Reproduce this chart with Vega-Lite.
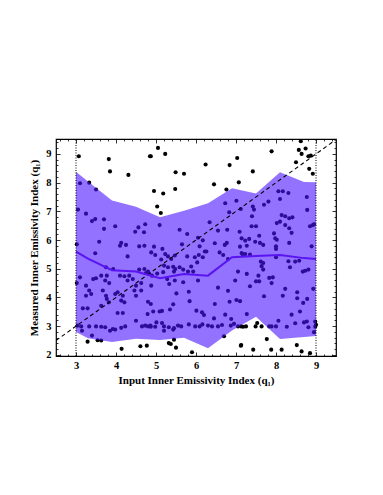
{
"$schema": "https://vega.github.io/schema/vega-lite/v6.json",
"width": 280, "height": 217,
"autosize": {"type": "none"},
"padding": {"left": 56, "top": 139, "right": 47, "bottom": 139},
"background": "white",
"config": {
 "view": {"stroke": "black", "strokeWidth": 1.2},
 "axis": {"domain": false, "grid": false, "labelFont": "Liberation Serif", "titleFont": "Liberation Serif", "labelColor": "black", "titleColor": "black", "tickColor": "black", "labelFontSize": 10.5, "titleFontSize": 11, "titleFontWeight": "bold", "labelFontWeight": "bold", "tickWidth": 0.8}
},
"datasets": {
 "pts": [
  {"x":3.07,"y":8.92},{"x":3.82,"y":8.82},{"x":3.85,"y":8.39},{"x":4.31,"y":8.27},{"x":4.85,"y":8.92},
  {"x":3.10,"y":7.98},{"x":3.33,"y":8.00},{"x":3.50,"y":7.76},{"x":3.05,"y":7.06},{"x":3.25,"y":6.92},
  {"x":3.40,"y":6.66},{"x":3.48,"y":6.73},{"x":3.70,"y":6.72},{"x":3.70,"y":6.39},{"x":3.98,"y":6.48},
  {"x":4.56,"y":6.44},{"x":4.48,"y":6.29},{"x":4.73,"y":6.55},{"x":4.70,"y":6.27},{"x":3.58,"y":5.94},
  {"x":4.13,"y":5.90},{"x":4.25,"y":5.83},{"x":4.10,"y":5.80},{"x":4.58,"y":5.78},{"x":4.71,"y":5.80},
  {"x":3.02,"y":5.85},{"x":3.48,"y":5.54},{"x":4.29,"y":5.43},{"x":3.75,"y":5.05},{"x":3.93,"y":4.99},
  {"x":4.71,"y":4.99},{"x":4.58,"y":4.97},{"x":4.75,"y":4.85},{"x":3.10,"y":4.70},{"x":3.02,"y":4.50},
  {"x":3.25,"y":4.41},{"x":3.43,"y":4.64},{"x":3.50,"y":4.67},{"x":3.63,"y":4.76},{"x":3.77,"y":4.76},
  {"x":3.73,"y":4.59},{"x":3.83,"y":4.50},{"x":4.10,"y":4.76},{"x":4.21,"y":4.74},{"x":4.29,"y":4.59},
  {"x":4.33,"y":4.76},{"x":4.42,"y":4.64},{"x":4.50,"y":4.41},{"x":4.63,"y":4.50},{"x":4.83,"y":4.82},
  {"x":3.33,"y":4.24},{"x":3.38,"y":4.12},{"x":3.25,"y":4.06},{"x":3.67,"y":4.24},{"x":3.75,"y":4.06},
  {"x":3.98,"y":4.12},{"x":4.04,"y":4.18},{"x":4.17,"y":4.06},{"x":4.46,"y":4.24},{"x":4.50,"y":4.06},
  {"x":4.63,"y":4.24},{"x":3.77,"y":3.95},{"x":3.82,"y":3.83},{"x":4.13,"y":3.89},{"x":4.21,"y":3.83},
  {"x":3.63,"y":3.71},{"x":3.17,"y":3.62},{"x":3.29,"y":3.62},{"x":4.04,"y":3.46},{"x":4.17,"y":3.46},
  {"x":4.50,"y":3.19},{"x":4.79,"y":3.42},{"x":3.04,"y":3.02},{"x":3.13,"y":2.99},{"x":3.15,"y":2.84},
  {"x":3.33,"y":2.99},{"x":3.50,"y":2.99},{"x":3.63,"y":2.98},{"x":3.73,"y":2.96},{"x":3.85,"y":2.84},
  {"x":3.92,"y":2.90},{"x":3.98,"y":2.88},{"x":4.13,"y":2.94},{"x":4.23,"y":2.99},{"x":4.65,"y":2.99},
  {"x":4.73,"y":3.02},{"x":4.86,"y":3.02},{"x":3.40,"y":2.67},{"x":3.54,"y":2.51},{"x":3.63,"y":2.50},
  {"x":3.29,"y":2.46},{"x":4.14,"y":2.21},{"x":4.61,"y":2.30},{"x":4.77,"y":2.32},
  {"x":5.05,"y":9.21},{"x":5.23,"y":9.00},{"x":4.87,"y":8.92},{"x":5.49,"y":8.36},{"x":5.70,"y":8.31},
  {"x":6.24,"y":8.63},{"x":6.84,"y":8.61},{"x":7.03,"y":8.86},{"x":4.95,"y":7.71},{"x":5.18,"y":7.62},
  {"x":5.48,"y":7.78},{"x":6.45,"y":7.94},{"x":6.76,"y":7.76},{"x":7.07,"y":8.01},{"x":5.03,"y":7.17},
  {"x":5.12,"y":6.94},{"x":7.01,"y":7.37},{"x":6.73,"y":7.28},{"x":6.83,"y":6.97},{"x":7.12,"y":7.08},
  {"x":5.09,"y":6.52},{"x":5.59,"y":6.36},{"x":5.78,"y":6.21},{"x":6.34,"y":6.62},{"x":6.55,"y":6.33},
  {"x":6.78,"y":6.36},{"x":7.09,"y":6.29},{"x":6.05,"y":6.08},{"x":6.17,"y":5.99},{"x":6.47,"y":5.89},
  {"x":6.72,"y":5.83},{"x":6.77,"y":5.90},{"x":4.95,"y":5.77},{"x":5.16,"y":5.69},{"x":5.65,"y":5.85},
  {"x":6.09,"y":5.78},{"x":6.22,"y":5.60},{"x":4.88,"y":5.57},{"x":4.98,"y":5.48},{"x":5.23,"y":5.51},
  {"x":5.30,"y":5.43},{"x":5.38,"y":5.34},{"x":5.47,"y":5.46},{"x":5.78,"y":5.43},{"x":5.97,"y":5.40},
  {"x":6.07,"y":5.48},{"x":6.17,"y":5.40},{"x":6.26,"y":5.60},{"x":6.59,"y":5.57},{"x":6.68,"y":5.48},
  {"x":6.80,"y":5.34},{"x":7.16,"y":5.51},{"x":5.13,"y":5.32},{"x":5.20,"y":5.11},{"x":5.30,"y":5.05},
  {"x":5.43,"y":5.07},{"x":5.48,"y":4.99},{"x":5.59,"y":5.05},{"x":5.88,"y":5.08},{"x":6.03,"y":5.22},
  {"x":4.80,"y":4.90},{"x":4.90,"y":4.76},{"x":5.03,"y":4.83},{"x":5.18,"y":4.88},{"x":5.45,"y":4.90},
  {"x":5.68,"y":4.97},{"x":5.80,"y":4.90},{"x":5.93,"y":4.90},{"x":5.28,"y":4.64},{"x":5.33,"y":4.47},
  {"x":5.47,"y":4.59},{"x":5.68,"y":4.53},{"x":6.05,"y":4.59},{"x":6.55,"y":4.34},{"x":6.80,"y":4.23},
  {"x":6.98,"y":4.59},{"x":7.05,"y":4.90},{"x":4.88,"y":4.41},{"x":5.51,"y":4.14},{"x":5.82,"y":4.20},
  {"x":4.80,"y":3.85},{"x":4.87,"y":3.77},{"x":5.43,"y":3.76},{"x":5.84,"y":3.87},{"x":6.47,"y":3.77},
  {"x":6.84,"y":3.85},{"x":7.01,"y":3.91},{"x":4.93,"y":3.51},{"x":5.09,"y":3.51},{"x":5.15,"y":3.53},
  {"x":5.35,"y":3.58},{"x":6.01,"y":3.54},{"x":6.15,"y":3.48},{"x":6.20,"y":3.39},{"x":6.45,"y":3.27},
  {"x":6.73,"y":3.40},{"x":6.88,"y":3.25},{"x":5.01,"y":3.13},{"x":5.15,"y":3.11},{"x":4.80,"y":2.99},
  {"x":4.87,"y":2.98},{"x":4.98,"y":2.98},{"x":5.20,"y":2.99},{"x":5.32,"y":2.96},{"x":5.45,"y":2.93},
  {"x":5.55,"y":3.02},{"x":5.63,"y":2.99},{"x":5.82,"y":3.06},{"x":5.98,"y":2.99},{"x":6.09,"y":2.99},
  {"x":6.16,"y":3.06},{"x":6.30,"y":3.02},{"x":6.40,"y":2.99},{"x":6.55,"y":2.99},{"x":6.65,"y":3.04},
  {"x":6.87,"y":3.02},{"x":6.95,"y":3.08},{"x":7.05,"y":2.99},{"x":7.13,"y":2.99},{"x":5.20,"y":2.84},
  {"x":5.43,"y":2.88},{"x":5.32,"y":2.41},{"x":5.37,"y":2.38},{"x":5.45,"y":2.53},{"x":5.50,"y":2.25},
  {"x":6.70,"y":2.65},{"x":7.12,"y":2.32},{"x":5.90,"y":2.09},
  {"x":8.62,"y":9.44},{"x":7.89,"y":9.09},{"x":8.57,"y":9.14},{"x":8.74,"y":9.19},{"x":8.64,"y":9.00},
  {"x":8.81,"y":8.92},{"x":8.87,"y":8.94},{"x":8.50,"y":8.71},{"x":7.42,"y":8.39},{"x":8.83,"y":8.48},
  {"x":8.92,"y":8.31},{"x":8.06,"y":7.70},{"x":8.17,"y":7.70},{"x":8.31,"y":7.64},{"x":8.10,"y":7.43},
  {"x":8.77,"y":7.50},{"x":7.81,"y":7.34},{"x":7.70,"y":7.23},{"x":7.42,"y":7.17},{"x":7.45,"y":7.06},
  {"x":8.78,"y":7.05},{"x":8.14,"y":6.87},{"x":8.23,"y":6.83},{"x":8.33,"y":6.76},{"x":8.41,"y":6.79},
  {"x":7.40,"y":6.83},{"x":8.10,"y":6.64},{"x":8.02,"y":6.59},{"x":8.23,"y":6.52},{"x":8.33,"y":6.41},
  {"x":8.39,"y":6.25},{"x":7.39,"y":6.48},{"x":7.50,"y":6.48},{"x":8.85,"y":6.48},{"x":8.92,"y":6.52},
  {"x":8.95,"y":6.55},{"x":7.58,"y":6.15},{"x":7.95,"y":6.23},{"x":7.98,"y":6.06},{"x":8.02,"y":6.01},
  {"x":7.14,"y":6.06},{"x":7.23,"y":5.98},{"x":7.33,"y":6.04},{"x":7.48,"y":5.94},{"x":7.60,"y":5.90},
  {"x":7.68,"y":5.83},{"x":8.33,"y":5.90},{"x":8.89,"y":5.78},{"x":8.00,"y":5.78},{"x":8.00,"y":5.69},
  {"x":7.10,"y":5.77},{"x":7.27,"y":5.80},{"x":7.14,"y":5.55},{"x":7.23,"y":5.51},{"x":7.35,"y":5.49},
  {"x":7.62,"y":5.25},{"x":7.68,"y":5.20},{"x":7.64,"y":5.09},{"x":8.00,"y":5.40},{"x":8.31,"y":5.26},
  {"x":8.48,"y":5.25},{"x":8.58,"y":5.28},{"x":8.73,"y":4.93},{"x":8.81,"y":4.97},{"x":8.67,"y":4.90},
  {"x":8.35,"y":5.05},{"x":7.27,"y":4.82},{"x":7.56,"y":4.76},{"x":7.68,"y":4.97},{"x":7.83,"y":4.68},
  {"x":7.92,"y":4.70},{"x":7.89,"y":4.50},{"x":7.50,"y":4.56},{"x":7.58,"y":4.56},{"x":7.35,"y":4.39},
  {"x":8.23,"y":4.30},{"x":8.53,"y":4.18},{"x":8.93,"y":4.30},{"x":8.17,"y":4.06},{"x":8.53,"y":3.97},
  {"x":8.68,"y":3.81},{"x":8.78,"y":3.95},{"x":7.70,"y":4.04},{"x":7.10,"y":3.87},{"x":8.39,"y":3.40},
  {"x":8.60,"y":3.51},{"x":7.27,"y":3.42},{"x":8.48,"y":3.10},{"x":8.70,"y":3.13},{"x":8.77,"y":3.16},
  {"x":8.98,"y":3.16},{"x":9.00,"y":3.05},{"x":8.06,"y":3.19},{"x":7.18,"y":2.98},{"x":7.25,"y":2.99},
  {"x":7.49,"y":2.99},{"x":7.53,"y":3.11},{"x":7.64,"y":2.99},{"x":7.83,"y":2.99},{"x":7.89,"y":2.99},
  {"x":8.00,"y":2.99},{"x":8.27,"y":2.98},{"x":8.81,"y":2.96},{"x":8.98,"y":2.98},{"x":8.95,"y":2.79},
  {"x":7.77,"y":2.55},{"x":7.13,"y":2.34},{"x":7.43,"y":2.18},{"x":7.88,"y":2.18},{"x":8.14,"y":2.18},
  {"x":8.52,"y":2.34},{"x":8.64,"y":2.12},{"x":8.85,"y":2.06}
 ],
 "band": [
  {"x":3.0,"lo":2.80,"hi":8.38,"med":5.60},
  {"x":3.3,"lo":2.58,"hi":8.04,"med":5.35},
  {"x":3.9,"lo":2.45,"hi":7.38,"med":4.95},
  {"x":4.5,"lo":2.56,"hi":7.16,"med":4.90},
  {"x":5.1,"lo":2.52,"hi":6.79,"med":4.67},
  {"x":5.7,"lo":2.60,"hi":7.02,"med":4.82},
  {"x":6.3,"lo":2.23,"hi":7.28,"med":4.76},
  {"x":6.9,"lo":2.85,"hi":7.80,"med":5.40},
  {"x":7.5,"lo":3.33,"hi":7.62,"med":5.44},
  {"x":8.1,"lo":2.55,"hi":8.36,"med":5.48},
  {"x":8.7,"lo":2.62,"hi":8.02,"med":5.37},
  {"x":9.0,"lo":2.66,"hi":8.01,"med":5.34}
 ],
 "diag": [{"x":2.5,"y":2.5},{"x":9.5,"y":9.5}],
 "vl": [{"x":3},{"x":9}]
},
"layer": [
 {
  "data": {"name": "pts"},
  "mark": {"type": "circle", "color": "black", "size": 17, "opacity": 1, "clip": true},
  "encoding": {
   "x": {"field": "x", "type": "quantitative", "scale": {"domain": [2.5, 9.5], "nice": false, "zero": false},
     "axis": {"orient": "bottom", "ticks": false, "values": [3,4,5,6,7,8,9], "labelPadding": 4, "title": "Input Inner Emissivity Index (q₁)", "titlePadding": 4}},
   "y": {"field": "y", "type": "quantitative", "scale": {"domain": [1.96, 9.52], "nice": false, "zero": false},
     "axis": {"orient": "left", "ticks": false, "values": [2,3,4,5,6,7,8,9], "labelPadding": 5, "title": "Measured Inner Emissivity Index (q₁)", "titlePadding": 6}}
  }
 },
 {
  "data": {"name": "band"},
  "mark": {"type": "area", "color": "#4a14ff", "opacity": 0.6, "clip": true},
  "encoding": {
   "x": {"field": "x", "type": "quantitative", "scale": {"domain": [2.5, 9.5], "nice": false, "zero": false},
     "axis": {"orient": "bottom", "labels": false, "title": null, "offset": -4, "tickSize": 4, "values": [3,4,5,6,7,8,9]}},
   "y": {"field": "hi", "type": "quantitative", "scale": {"domain": [1.96, 9.52], "nice": false, "zero": false},
     "axis": {"orient": "left", "labels": false, "title": null, "offset": -4, "tickSize": 4, "values": [2,3,4,5,6,7,8,9]}},
   "y2": {"field": "lo"}
  }
 },
 {
  "data": {"name": "diag"},
  "mark": {"type": "line", "color": "black", "strokeWidth": 1.1, "strokeDash": [4, 3], "clip": true},
  "encoding": {
   "x": {"field": "x", "type": "quantitative", "scale": {"domain": [2.5, 9.5], "nice": false, "zero": false},
     "axis": {"orient": "top", "labels": false, "title": null, "offset": -4, "tickSize": 4, "values": [3,4,5,6,7,8,9]}},
   "y": {"field": "y", "type": "quantitative", "scale": {"domain": [1.96, 9.52], "nice": false, "zero": false},
     "axis": {"orient": "right", "labels": false, "title": null, "offset": -4, "tickSize": 4, "values": [2,3,4,5,6,7,8,9]}}
  }
 },
 {
  "data": {"name": "band"},
  "mark": {"type": "line", "color": "#5a14f2", "strokeWidth": 2, "clip": true},
  "encoding": {
   "x": {"field": "x", "type": "quantitative", "scale": {"domain": [2.5, 9.5], "nice": false, "zero": false},
     "axis": {"orient": "bottom", "labels": false, "title": null, "offset": -2, "tickSize": 2, "values": [2.6,2.8,3.2,3.4,3.6,3.8,4.2,4.4,4.6,4.8,5.2,5.4,5.6,5.8,6.2,6.4,6.6,6.8,7.2,7.4,7.6,7.8,8.2,8.4,8.6,8.8,9.2,9.4]}},
   "y": {"field": "med", "type": "quantitative", "scale": {"domain": [1.96, 9.52], "nice": false, "zero": false},
     "axis": {"orient": "left", "labels": false, "title": null, "offset": -2, "tickSize": 2, "values": [2.2,2.4,2.6,2.8,3.2,3.4,3.6,3.8,4.2,4.4,4.6,4.8,5.2,5.4,5.6,5.8,6.2,6.4,6.6,6.8,7.2,7.4,7.6,7.8,8.2,8.4,8.6,8.8,9.2,9.4]}}
  }
 },
 {
  "data": {"name": "vl"},
  "mark": {"type": "rule", "color": "black", "strokeWidth": 1, "strokeDash": [1, 1.5]},
  "encoding": {
   "x": {"field": "x", "type": "quantitative", "scale": {"domain": [2.5, 9.5], "nice": false, "zero": false},
     "axis": {"orient": "top", "labels": false, "title": null, "offset": -2, "tickSize": 2, "values": [2.6,2.8,3.2,3.4,3.6,3.8,4.2,4.4,4.6,4.8,5.2,5.4,5.6,5.8,6.2,6.4,6.6,6.8,7.2,7.4,7.6,7.8,8.2,8.4,8.6,8.8,9.2,9.4]}},
   "y": {"datum": 1.96, "type": "quantitative", "scale": {"domain": [1.96, 9.52], "nice": false, "zero": false},
     "axis": {"orient": "right", "labels": false, "title": null, "offset": -2, "tickSize": 2, "values": [2.2,2.4,2.6,2.8,3.2,3.4,3.6,3.8,4.2,4.4,4.6,4.8,5.2,5.4,5.6,5.8,6.2,6.4,6.6,6.8,7.2,7.4,7.6,7.8,8.2,8.4,8.6,8.8,9.2,9.4]}},
   "y2": {"datum": 9.52}
  }
 }
],
"resolve": {"axis": {"x": "independent", "y": "independent"}}
}
